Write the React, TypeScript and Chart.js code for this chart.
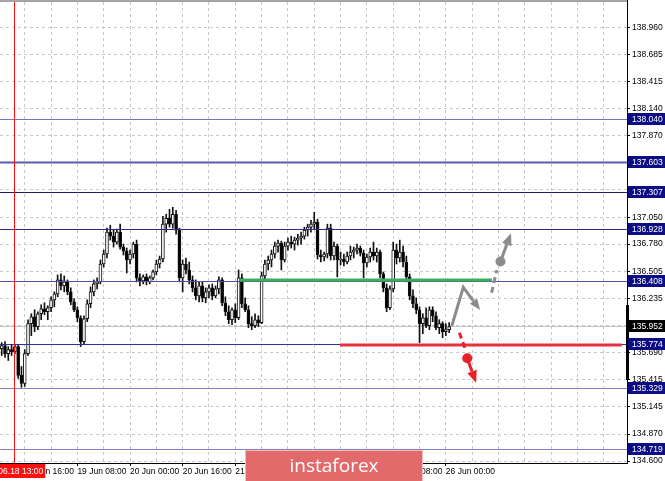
import React, { useEffect, useRef } from "react";
import { Chart, registerables } from "chart.js";

Chart.register(...registerables);

// H1 bars from 18 Jun 09:00 to 26 Jun 01:00 (bar index = position)
const opens = [135.73,135.76,135.68,135.72,135.70,135.75,135.46,135.38,135.68,135.98,
136.05,135.95,136.08,136.13,136.10,136.14,136.22,136.28,136.42,136.36,
136.40,136.30,136.20,136.12,136.04,135.80,136.03,136.18,136.30,136.38,
136.40,136.58,136.68,136.90,136.86,136.80,136.90,136.75,136.71,136.62,
136.68,136.78,136.44,136.41,136.45,136.40,136.44,136.50,136.58,136.63,
136.98,137.04,136.98,137.08,136.92,136.44,136.58,136.52,136.42,136.34,
136.26,136.36,136.24,136.30,136.34,136.26,136.33,136.42,136.19,136.10,
136.02,136.12,136.04,136.44,136.18,136.12,135.98,135.96,136.02,135.99,
136.46,136.58,136.62,136.68,136.76,136.79,136.62,136.76,136.80,136.78,
136.82,136.84,136.86,136.92,136.95,136.98,137.00,136.67,136.65,136.68,
136.94,136.66,136.76,136.62,136.63,136.60,136.66,136.70,136.72,136.74,
136.69,136.59,136.65,136.70,136.66,136.70,136.48,136.34,136.14,136.33,
136.72,136.64,136.70,136.60,136.45,136.26,136.18,136.12,135.98,136.04,
135.96,136.12,136.06,135.94,135.98,135.90,135.92];

const highs = [135.79,135.80,135.75,135.77,135.77,135.77,135.55,135.72,136.02,136.08,
136.12,136.10,136.17,136.19,136.16,136.25,136.30,136.47,136.48,136.46,
136.42,136.34,136.23,136.15,136.06,136.06,136.22,136.35,136.42,136.44,
136.62,136.72,136.94,136.97,136.92,136.93,136.98,136.78,136.74,136.72,
136.80,136.82,136.48,136.47,136.48,136.46,136.52,136.62,136.66,137.06,
137.08,137.13,137.15,137.12,136.94,136.62,136.64,136.60,136.46,136.42,
136.40,136.40,136.34,136.37,136.38,136.36,136.45,136.44,136.25,136.16,
136.14,136.18,136.52,136.48,136.24,136.16,136.05,136.08,136.06,136.50,
136.62,136.66,136.72,136.80,136.82,136.81,136.80,136.84,136.86,136.85,
136.88,136.90,136.95,136.98,137.02,137.10,137.03,136.72,136.70,136.98,
136.98,136.80,136.78,136.70,136.68,136.70,136.76,136.75,136.78,136.76,
136.72,136.68,136.74,136.80,136.74,136.72,136.50,136.38,136.36,136.80,
136.78,136.82,136.76,136.66,136.48,136.32,136.24,136.15,136.08,136.14,
136.15,136.15,136.10,136.02,136.00,135.98,135.99];

const lows = [135.66,135.64,135.61,135.66,135.68,135.43,135.34,135.35,135.66,135.86,
135.90,135.92,136.02,136.07,136.02,136.10,136.15,136.25,136.32,136.30,
136.27,136.17,136.10,136.00,135.75,135.78,136.00,136.14,136.26,136.33,
136.38,136.55,136.64,136.82,136.75,136.78,136.73,136.67,136.49,136.58,
136.64,136.40,136.36,136.38,136.37,136.38,136.42,136.47,136.54,136.60,
136.90,136.95,136.94,136.88,136.40,136.30,136.48,136.38,136.30,136.22,
136.20,136.20,136.19,136.24,136.22,136.24,136.28,136.16,136.06,135.98,
135.97,135.99,136.02,136.14,136.10,135.94,135.92,135.94,135.95,135.98,
136.42,136.52,136.55,136.64,136.70,136.52,136.60,136.72,136.74,136.72,
136.77,136.78,136.83,136.86,136.90,136.93,136.63,136.60,136.61,136.64,
136.62,136.62,136.45,136.57,136.56,136.58,136.62,136.64,136.68,136.66,
136.44,136.55,136.60,136.62,136.60,136.44,136.30,136.10,136.12,136.30,
136.58,136.60,136.55,136.40,136.22,136.14,136.08,135.79,135.88,135.94,
135.92,136.00,135.92,135.88,135.84,135.86,135.89];

const closes = [135.76,135.68,135.72,135.70,135.75,135.46,135.38,135.68,135.98,136.05,
135.95,136.08,136.13,136.10,136.14,136.22,136.28,136.42,136.36,136.40,
136.30,136.20,136.12,136.04,135.80,136.03,136.18,136.30,136.38,136.40,
136.58,136.68,136.90,136.86,136.80,136.90,136.75,136.71,136.62,136.68,
136.78,136.44,136.41,136.45,136.40,136.44,136.50,136.58,136.63,136.98,
137.04,136.98,137.08,136.92,136.44,136.58,136.52,136.42,136.34,136.26,
136.36,136.24,136.30,136.34,136.26,136.33,136.42,136.19,136.10,136.02,
136.12,136.04,136.44,136.18,136.12,135.98,135.96,136.02,135.99,136.46,
136.58,136.62,136.68,136.76,136.79,136.62,136.76,136.80,136.78,136.82,
136.84,136.86,136.92,136.95,136.98,137.00,136.67,136.65,136.68,136.94,
136.66,136.76,136.62,136.63,136.60,136.66,136.70,136.72,136.74,136.69,
136.59,136.65,136.70,136.66,136.70,136.48,136.34,136.14,136.33,136.72,
136.64,136.70,136.60,136.45,136.26,136.18,136.12,135.98,136.04,135.96,
136.12,136.06,135.94,135.98,135.90,135.92,135.952];

// Axis
const xGridIndex = [7, 15, 23, 31, 39, 47, 55, 63, 71, 79, 87, 95, 103, 111, 119, 127, 135, 143, 151, 159, 167, 175, 183];
const xTickIndex = [7, 23, 39, 55, 71, 87, 103, 119, 135];
const xTickText = ["18 Jun 16:00", "19 Jun 08:00", "20 Jun 00:00", "20 Jun 16:00", "21 Jun 08:00", "22 Jun 00:00", "22 Jun 16:00", "25 Jun 08:00", "26 Jun 00:00"];
const yTicks = [134.600, 134.870, 135.145, 135.415, 135.690, 135.960, 136.235, 136.505, 136.780, 137.050, 137.325, 137.595, 137.870, 138.140, 138.415, 138.685, 138.960];
const yHiddenTicks = [135.960, 137.325, 137.595];
const xMin = -0.52;
const xMax = 190.06;
const yMin = 134.58;
const yMax = 139.213;

// Levels and markers
const levelPrices = [138.040, 137.603, 137.307, 136.928, 136.408, 135.774, 135.329, 134.719];
const levelColors = ["#7474c4", "#5c5cac", "#1c1c70", "#2c2c84", "#5050a4", "#2e2e98", "#8080c4", "#8080c4"];
const currentPrice = 135.952;
const separatorIndex = 4;
const separatorText = "18.06.18 13:00";
const axisMarkRange = [135.414, 136.168];

// Drawn analysis
const greenLineX = [72.4, 149];
const greenLinePrice = 136.42;
const redLineX = [102.8, 188.5];
const redLinePrice = 135.765;
const grayZigX = [136.8, 140.3, 145.4];
const grayZigY = [135.957, 136.346, 136.118];
const grayUpX = [148.9, 150.5, 151.6, 154.8];
const grayUpY = [136.291, 136.52, 136.605, 136.89];
const redDownX = [139.1, 140.8, 141.5, 144.2];
const redDownY = [135.889, 135.736, 135.632, 135.387];

const FONT = "Liberation Sans";

function head(ctx: CanvasRenderingContext2D, x1: number, y1: number, x2: number, y2: number, len: number, w: number) {
  const a = Math.atan2(y2 - y1, x2 - x1);
  const bx = x2 - len * Math.cos(a);
  const by = y2 - len * Math.sin(a);
  ctx.beginPath();
  ctx.moveTo(x2, y2);
  ctx.lineTo(bx + (w / 2) * Math.sin(a), by - (w / 2) * Math.cos(a));
  ctx.lineTo(bx - (w / 2) * Math.sin(a), by + (w / 2) * Math.cos(a));
  ctx.closePath();
  ctx.fill();
  return [bx, by];
}

function dotArrow(ctx: CanvasRenderingContext2D, xs: number[], ys: number[], xS: any, yS: any, color: string) {
  const px = xs.map((v) => xS.getPixelForValue(v));
  const py = ys.map((v) => yS.getPixelForValue(v));
  ctx.save();
  ctx.strokeStyle = color;
  ctx.fillStyle = color;
  ctx.lineWidth = 3;
  ctx.setLineDash([6, 4]);
  ctx.beginPath();
  ctx.moveTo(px[0], py[0]);
  ctx.lineTo(px[1], py[1]);
  ctx.stroke();
  ctx.setLineDash([]);
  ctx.beginPath();
  ctx.arc(px[2], py[2], 5, 0, Math.PI * 2);
  ctx.fill();
  const [bx, by] = head(ctx, px[2], py[2], px[3], py[3], 12, 10);
  ctx.beginPath();
  ctx.moveTo(px[2], py[2]);
  ctx.lineTo(bx, by);
  ctx.stroke();
  ctx.restore();
}

const overlay = {
  id: "overlay",
  beforeDatasetsDraw(chart: any) {
    const { ctx, chartArea: a, scales } = chart;
    const py = Math.round(scales.y.getPixelForValue(currentPrice)) + 0.5;
    ctx.save();
    ctx.strokeStyle = "#c4c4c4";
    ctx.lineWidth = 1;
    ctx.beginPath();
    ctx.moveTo(a.left, py);
    ctx.lineTo(a.right, py);
    ctx.stroke();
    ctx.restore();
  },
  afterDatasetsDraw(chart: any) {
    const { ctx, chartArea: a, scales } = chart;
    const xS = scales.x;
    const yS = scales.y;
    ctx.save();
    ctx.beginPath();
    ctx.rect(a.left, a.top, a.right - a.left, a.bottom - a.top);
    ctx.clip();
    levelPrices.forEach((p, i) => {
      const py = Math.round(yS.getPixelForValue(p)) + 0.5;
      ctx.strokeStyle = levelColors[i];
      ctx.lineWidth = p === 137.603 ? 2 : 1;
      ctx.beginPath();
      ctx.moveTo(a.left, py);
      ctx.lineTo(a.right, py);
      ctx.stroke();
    });
    // separator
    const sx = Math.round(xS.getPixelForValue(separatorIndex)) - 0.5;
    ctx.strokeStyle = "#ff1010";
    ctx.lineWidth = 1;
    ctx.beginPath();
    ctx.moveTo(sx, 0);
    ctx.lineTo(sx, a.bottom);
    ctx.stroke();
    // green and red lines
    ctx.lineWidth = 3;
    ctx.strokeStyle = "#3aae58";
    let gy = yS.getPixelForValue(greenLinePrice);
    ctx.beginPath();
    ctx.moveTo(xS.getPixelForValue(greenLineX[0]), gy);
    ctx.lineTo(xS.getPixelForValue(greenLineX[1]), gy);
    ctx.stroke();
    ctx.strokeStyle = "#e8303c";
    gy = yS.getPixelForValue(redLinePrice);
    ctx.beginPath();
    ctx.moveTo(xS.getPixelForValue(redLineX[0]), gy);
    ctx.lineTo(xS.getPixelForValue(redLineX[1]), gy);
    ctx.stroke();
    // zigzag arrow
    const zx = grayZigX.map((v) => xS.getPixelForValue(v));
    const zy = grayZigY.map((v) => yS.getPixelForValue(v));
    ctx.strokeStyle = "#8c8c8c";
    ctx.fillStyle = "#8c8c8c";
    const [bx, by] = head(ctx, zx[1], zy[1], zx[2], zy[2], 11, 9);
    ctx.beginPath();
    ctx.moveTo(zx[0], zy[0]);
    ctx.lineTo(zx[1], zy[1]);
    ctx.lineTo(bx, by);
    ctx.stroke();
    ctx.restore();
    dotArrow(ctx, grayUpX, grayUpY, xS, yS, "#8c8c8c");
    dotArrow(ctx, redDownX, redDownY, xS, yS, "#e8202a");
  },
  afterDraw(chart: any) {
    const { ctx, chartArea: a, scales } = chart;
    const xS = scales.x;
    const yS = scales.y;
    ctx.save();
    // frame
    ctx.fillStyle = "#a4a4a4";
    ctx.fillRect(0, a.top - 2, a.right, 2);
    ctx.strokeStyle = "#000";
    ctx.lineWidth = 1;
    ctx.beginPath();
    ctx.moveTo(a.right + 0.5, a.top - 2);
    ctx.lineTo(a.right + 0.5, a.bottom + 1);
    ctx.moveTo(0, a.bottom + 0.5);
    ctx.lineTo(a.right + 1, a.bottom + 0.5);
    ctx.stroke();
    ctx.fillStyle = "#000";
    const m0 = yS.getPixelForValue(axisMarkRange[1]);
    const m1 = yS.getPixelForValue(axisMarkRange[0]);
    ctx.fillRect(a.right - 1, m0, 3, m1 - m0);
    // price labels
    ctx.font = `8.5px "${FONT}"`;
    ctx.textBaseline = "middle";
    ctx.textAlign = "left";
    const box = (p: number, bg: string) => {
      const py = Math.round(yS.getPixelForValue(p));
      ctx.fillStyle = bg;
      ctx.fillRect(a.right + 1, py - 6, 37, 12);
      ctx.fillStyle = "#fff";
      ctx.fillText(p.toFixed(3), a.right + 5, py + 0.5);
    };
    levelPrices.forEach((p) => box(p, "#0c0c84"));
    box(currentPrice, "#000");
    // separator label
    const sx = xS.getPixelForValue(separatorIndex);
    const tw = ctx.measureText(separatorText).width + 4;
    ctx.fillStyle = "#ff1010";
    ctx.fillRect(sx - tw / 2, a.bottom + 1, tw, 14);
    ctx.fillStyle = "#fff";
    ctx.fillText(separatorText, sx - tw / 2 + 2, a.bottom + 8.5);
    // watermark
    ctx.fillStyle = "#e26a6a";
    ctx.fillRect(245, 450, 178, 31);
    ctx.strokeStyle = "rgba(255,255,255,0.55)";
    ctx.strokeRect(245.5, 450.5, 177, 31);
    ctx.fillStyle = "#ffffff";
    ctx.font = `19px "Open Sans"`;
    ctx.textAlign = "center";
    ctx.textBaseline = "alphabetic";
    ctx.fillText("instaforex", 334, 472);
    ctx.restore();
  },
};

export default function App() {
  const ref = useRef<HTMLCanvasElement>(null);
  useEffect(() => {
    const canvas = ref.current;
    if (!canvas) return;
    const wickData = closes.map((c, i) => ({ x: i, y: [lows[i], highs[i]] }));
    const bodyData = closes.map((c, i) => {
      const o = opens[i];
      let lo = Math.min(o, c);
      let hi = Math.max(o, c);
      if (hi - lo < 0.01) {
        const m = (hi + lo) / 2;
        lo = m - 0.005;
        hi = m + 0.005;
      }
      return { x: i, y: [lo, hi] };
    });
    const tickFont = { family: FONT, size: 8.5 };
    const chart = new Chart(canvas, {
      type: "bar",
      data: {
        datasets: [
          {
            data: bodyData as any,
            backgroundColor: closes.map((c, i) => (c >= opens[i] ? "#ffffff" : "#000000")),
            borderColor: "#111",
            borderWidth: 1,
            borderSkipped: false,
            barThickness: 3,
            grouped: false,
            order: 0,
          } as any,
          {
            data: wickData as any,
            backgroundColor: "#111",
            borderWidth: 0,
            barThickness: 1,
            grouped: false,
            order: 1,
          } as any,
        ],
      },
      options: {
        animation: false,
        responsive: false,
        devicePixelRatio: 1,
        layout: { padding: { top: 2, left: 0, right: 0, bottom: 0 } },
        plugins: { legend: { display: false }, tooltip: { enabled: false } },
        scales: {
          x: {
            type: "linear",
            min: xMin,
            max: xMax,
            offset: false,
            grid: {
              offset: false,
              color: "#c8c8c8",
              lineWidth: 1,
              drawTicks: true,
              tickLength: 3,
              tickColor: (c: any) => (xTickIndex.includes(c.tick?.value) ? "#000" : "rgba(0,0,0,0)"),
            },
            border: { display: false, dash: [3, 3] },
            ticks: {
              autoSkip: false,
              maxRotation: 0,
              minRotation: 0,
              align: "start",
              padding: 1,
              color: "#000",
              font: tickFont,
              callback: (v: any) => {
                const k = xTickIndex.indexOf(Number(v));
                return k >= 0 ? xTickText[k] : "";
              },
            },
            afterBuildTicks: (s: any) => {
              s.ticks = xGridIndex.map((v) => ({ value: v }));
            },
            afterFit: (s: any) => {
              s.height = 18;
              s.paddingLeft = 0;
              s.paddingRight = 0;
            },
          } as any,
          y: {
            type: "linear",
            position: "right",
            min: yMin,
            max: yMax,
            grid: { color: "#c8c8c8", lineWidth: 1, drawTicks: true, tickLength: 3, tickColor: "#000" },
            border: { display: false, dash: [3, 3] },
            ticks: {
              padding: 2,
              color: "#000",
              font: tickFont,
              callback: (v: any) => (yHiddenTicks.includes(Number(v)) ? "" : Number(v).toFixed(3)),
            },
            afterBuildTicks: (s: any) => {
              s.ticks = yTicks.map((v) => ({ value: v }));
            },
            afterFit: (s: any) => {
              s.width = 38;
              s.paddingTop = 0;
              s.paddingBottom = 0;
            },
          } as any,
        },
      },
      plugins: [overlay as any],
    });
    return () => chart.destroy();
  }, []);
  return (
    <div style={{ position: "fixed", left: 0, top: 0, width: 665, height: 481, background: "#fff" }}>
      <canvas ref={ref} width={665} height={481} style={{ display: "block" }} />
    </div>
  );
}
